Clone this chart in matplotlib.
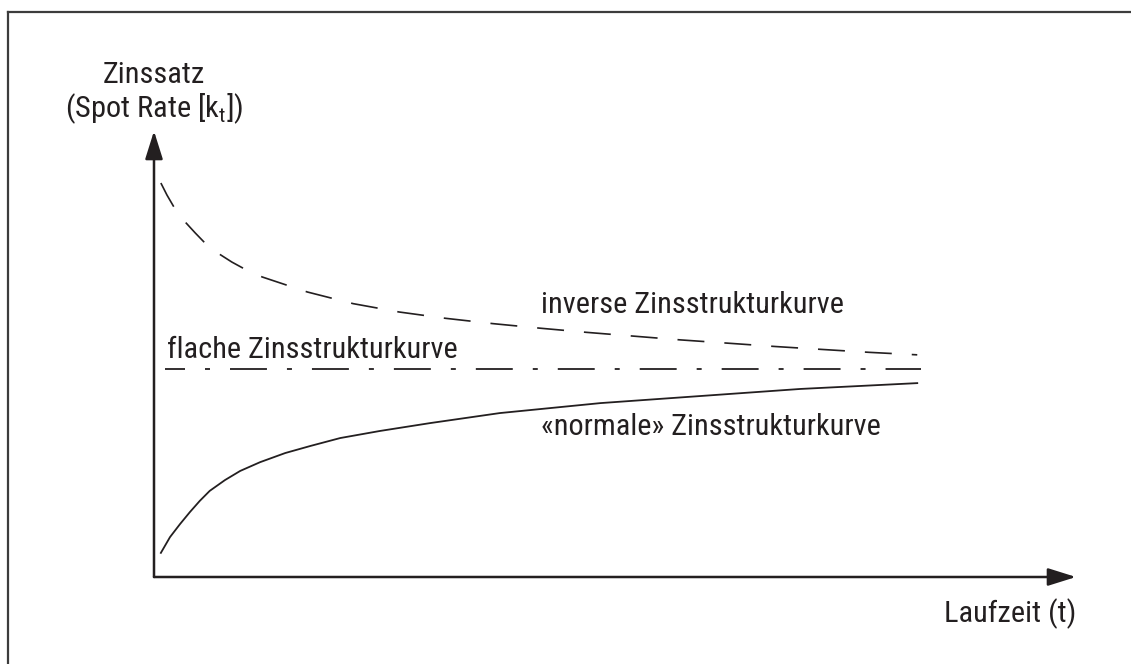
import matplotlib
matplotlib.use('Agg')
import matplotlib.pyplot as plt
from matplotlib import font_manager
from matplotlib.lines import Line2D

# curve data (Laufzeit t, Zinssatz r)
inverse_t = [0.09, 0.17, 0.30, 0.42, 0.54, 0.73, 1.02, 1.26, 1.42, 2.01, 2.61,
             3.21, 3.81, 4.44, 5.06, 5.67, 6.28, 6.89, 7.52, 8.14, 8.75, 9.37, 10.0]
inverse_r = [9.47, 9.18, 8.77, 8.51, 8.27, 7.91, 7.57, 7.33, 7.21, 6.85, 6.57,
             6.37, 6.22, 6.09, 5.98, 5.88, 5.79, 5.70, 5.62, 5.54, 5.47, 5.40, 5.34]

normal_t = [0.09, 0.21, 0.34, 0.47, 0.60, 0.73, 0.93, 1.13, 1.39, 1.72, 2.05,
            2.44, 2.96, 3.62, 4.53, 5.85, 7.16, 8.47, 10.0]
normal_r = [0.58, 0.96, 1.27, 1.56, 1.83, 2.07, 2.33, 2.55, 2.76, 2.98, 3.15,
            3.34, 3.51, 3.70, 3.94, 4.18, 4.35, 4.52, 4.66]

flat_t = [0.14, 10.05]
flat_r = [5.0, 5.0]

t_max = 12.08
r_max = 10.72

ink = '#231f20'

available = {f.name for f in font_manager.fontManager.ttflist}
family = 'DejaVu Sans'
for name in ['Roboto Condensed', 'Liberation Sans Narrow', 'DejaVu Sans']:
    if name in available:
        family = name
        break
plt.rcParams['font.family'] = family
plt.rcParams['font.stretch'] = 'condensed'
plt.rcParams['mathtext.fontset'] = 'custom'
plt.rcParams['mathtext.rm'] = family
plt.rcParams['lines.scale_dashes'] = False

W, H = 1131, 664
fig = plt.figure(figsize=(W / 100, H / 100), dpi=100)
ax = fig.add_axes([154 / W, (H - 577) / H, (1076 - 154) / W, (577 - 131) / H])
ax.set_xlim(0, t_max)
ax.set_ylim(0, r_max)
ax.axis('off')

# outer frame (left and top only, as cropped)
fig.add_artist(Line2D([8 / W, 8 / W], [0, 1 - 12 / H], color='#3c3c3c', lw=1.6))
fig.add_artist(Line2D([8 / W, 1], [1 - 12 / H, 1 - 12 / H], color='#3c3c3c', lw=1.6))

# axes with arrow heads
arrow = dict(arrowstyle='-|>,head_length=0.86,head_width=0.27', mutation_scale=20,
             lw=1.8, color=ink, shrinkA=0, shrinkB=0)
ax.annotate('', xy=(0, r_max), xytext=(0, 0), arrowprops=arrow, annotation_clip=False)
ax.annotate('', xy=(t_max, 0), xytext=(0, 0), arrowprops=arrow, annotation_clip=False)

ax.plot(inverse_t, inverse_r, color=ink, lw=1.2, linestyle=(0, (19.4, 14.4)),
        solid_joinstyle='round', clip_on=False)
ax.plot(flat_t, flat_r, color=ink, lw=1.3,
        linestyle=(12.2, (26.6, 14.4, 3.6, 14.4)), clip_on=False)
ax.plot(normal_t, normal_r, color=ink, lw=1.3, solid_joinstyle='round', clip_on=False)

fs = 20
labels = [
    ax.text(0, 11.875, 'Zinssatz', ha='center', va='baseline'),
    ax.text(0, 11.06, r'(Spot Rate [k$_\mathregular{t}$])', ha='center', va='baseline'),
    ax.text(5.07, 6.35, 'inverse Zinsstrukturkurve', ha='left', va='baseline'),
    ax.text(0.17, 5.26, 'flache Zinsstrukturkurve', ha='left', va='baseline'),
    ax.text(5.07, 3.41, '«normale» Zinsstrukturkurve', ha='left', va='baseline'),
    ax.text(t_max, -1.08, 'Laufzeit (t)', ha='right', va='baseline'),
]
for lab in labels:
    lab.set_fontsize(fs)
    lab.set_color(ink)

# match the label width of the original lettering (~290 px for "flache ...")
renderer = fig.canvas.get_renderer()
width = labels[3].get_window_extent(renderer).width
for lab in labels:
    lab.set_fontsize(fs * 290 / width)

fig.savefig('out.png', dpi=100)
